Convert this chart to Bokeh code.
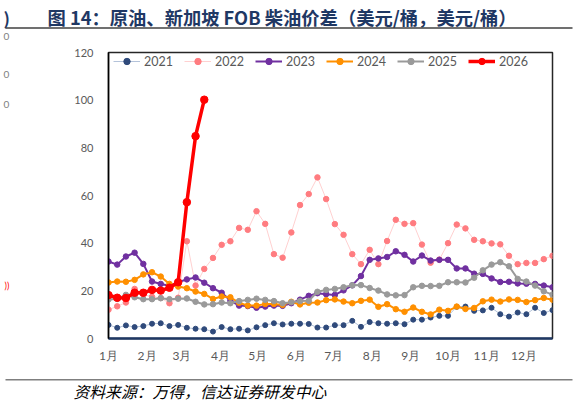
from bokeh.plotting import figure
from bokeh.layouts import column, row
from bokeh.models import Range1d, FixedTicker, Legend, LegendItem
from bokeh.core.properties import value
from bokeh.embed import file_html
from bokeh.resources import INLINE

# ---- data ----
month_labels = ["1月", "2月", "3月", "4月", "5月", "6月", "7月", "8月", "9月", "10月", "11月", "12月"]
month_start_day = [0, 31, 59, 90, 120, 151, 181, 212, 243, 273, 304, 334]
y_ticks = [0, 20, 40, 60, 80, 100, 120]

s2021 = [5.7, 4.5, 5.5, 4.8, 5.2, 6.2, 6.4, 5.2, 5.7, 4.5,
         4.1, 3.9, 2.9, 4.8, 3.9, 4.1, 3.4, 4.7, 5.6, 6.4,
         5.9, 6.2, 6.2, 6.1, 4.6, 4.6, 5.6, 5.6, 7.4, 4.9,
         6.9, 6.4, 6.2, 6.4, 6.0, 7.9, 7.9, 8.8, 9.5, 9.5,
         13.3, 13.4, 11.6, 11.8, 12.9, 10.2, 9.2, 10.9, 10.2, 12.9,
         10.7, 11.9]
s2022 = [12.1, 13.5, 15.1, 20.8, 18.5, 17.5, 17.0, 14.8, 17.1, 40.8,
         22.2, 29.2, 33.8, 39.3, 40.8, 46.4, 45.6, 53.4, 48.1, 35.4,
         33.9, 44.5, 56.0, 60.6, 67.6, 58.5, 48.0, 43.5, 35.4, 31.2,
         37.2, 31.2, 40.9, 49.8, 48.1, 48.4, 39.4, 31.8, 33.1, 40.0,
         47.8, 46.2, 41.4, 40.8, 39.9, 39.5, 34.7, 31.2, 31.7, 31.7,
         33.3, 34.7]
s2023 = [32.3, 31.0, 34.4, 36.0, 31.3, 23.9, 22.9, 22.1, 23.6, 24.8,
         25.6, 23.4, 21.1, 19.2, 15.9, 13.8, 13.6, 12.9, 13.4, 13.8,
         13.7, 14.8, 16.3, 17.9, 19.0, 18.6, 18.3, 20.2, 22.3, 26.2,
         33.0, 33.6, 34.2, 36.6, 35.1, 32.3, 34.8, 32.7, 33.0, 33.0,
         29.4, 29.4, 27.2, 27.1, 25.2, 23.7, 23.8, 23.1, 23.0, 22.9,
         22.2, 21.5]
s2024 = [23.5, 23.9, 23.8, 24.6, 26.9, 27.8, 26.0, 22.9, 21.8, 21.1,
         19.7, 18.7, 16.6, 17.6, 17.3, 15.0, 13.8, 13.8, 14.5, 14.5,
         14.1, 15.4, 14.3, 15.0, 15.1, 16.1, 16.4, 15.5, 14.8, 15.8,
         16.3, 13.3, 14.4, 12.3, 11.2, 13.0, 11.2, 10.1, 12.1, 11.6,
         13.4, 12.4, 12.8, 15.6, 16.3, 15.5, 16.4, 16.2, 15.3, 16.1,
         17.0, 16.3]
s2025 = [16.4, 16.6, 18.3, 17.3, 16.5, 16.5, 16.9, 16.5, 16.7, 16.8,
         15.4, 14.3, 14.4, 15.1, 14.8, 15.7, 16.2, 16.7, 16.2, 15.7,
         14.8, 15.2, 15.7, 15.8, 19.6, 20.4, 20.8, 21.5, 22.3, 22.4,
         21.2, 20.1, 18.5, 18.1, 18.2, 21.5, 22.1, 22.0, 22.1, 23.6,
         23.6, 23.5, 25.5, 28.6, 31.0, 32.0, 30.3, 25.0, 23.9, 22.2,
         19.8, 18.4]
s2026 = [18.2, 17.1, 17.0, 19.2, 19.2, 20.4, 20.1, 21.3, 23.6, 57.2, 84.9, 100.2]

series_names = ["2021", "2022", "2023", "2024", "2025", "2026"]
series_vals = [s2021, s2022, s2023, s2024, s2025, s2026]

title_text = "图 14：原油、新加坡 FOB 柴油价差（美元/桶，美元/桶）"
source_text = "资料来源：万得，信达证券研发中心"

# day-of-year position of each weekly observation
def week_days(n):
    return [w * 7 for w in range(n)]

TOTAL_W = 577
HEAD_H, MID_H, FOOT_H = 46, 326, 31
STRIP_W = 20


def blank_fig(w, h, y0, y1):
    f = figure(width=w, height=h, output_backend="svg", toolbar_location=None,
               x_range=Range1d(0, w), y_range=Range1d(y1, y0),
               x_axis_location=None, y_axis_location=None, min_border=0)
    f.grid.visible = False
    f.outline_line_color = None
    f.background_fill_color = "white"
    f.border_fill_color = "white"
    return f


# ---- header ----
head = blank_fig(TOTAL_W, HEAD_H, 0, HEAD_H)
head.text(x=[47], y=[16.5], text=[title_text], text_font=value("Noto Sans CJK SC"),
          text_font_size="18.3px", text_font_style="bold", text_color="#1F3864",
          text_baseline="middle", text_align="left")
head.text(x=[3], y=[16.5], text=[")"], text_font=value("Noto Sans CJK SC"),
          text_font_size="17px", text_font_style="bold", text_color="#1F3864",
          text_baseline="middle", text_align="left")
head.text(x=[3], y=[36], text=["0"], text_font=value("Lato"), text_font_size="10px",
          text_color="#7F7F7F", text_baseline="middle", text_align="left")
head.segment(x0=[5], y0=[27.5], x1=[572], y1=[27.5], line_color="#404040", line_width=1.5)

# ---- left strip (fragments cut from a neighbouring chart) ----
strip = blank_fig(STRIP_W, MID_H, HEAD_H, HEAD_H + MID_H)
strip.text(x=[3, 3], y=[71, 105], text=["0", "0"], text_font=value("Lato"), text_font_size="10px",
           text_color="#7F7F7F", text_baseline="middle", text_align="left")
strip.text(x=[4], y=[312], text=["))"], text_font=value("Lato"), text_font_size="9px",
           text_color="#FF0000", text_baseline="middle", text_align="left")

# ---- main chart ----
MAIN_W = TOTAL_W - STRIP_W
p = figure(width=MAIN_W, height=MID_H, output_backend="svg", toolbar_location=None,
           x_range=Range1d(0, 357), y_range=Range1d(0, 120),
           min_border_left=108 - STRIP_W, min_border_right=TOTAL_W - 552,
           min_border_top=52 - HEAD_H, min_border_bottom=HEAD_H + MID_H - 338)
p.background_fill_color = "white"
p.border_fill_color = "white"
p.grid.visible = False
p.outline_line_color = "#262626"
p.outline_line_width = 1.5

p.yaxis.ticker = FixedTicker(ticks=y_ticks)
p.yaxis.axis_line_color = "#000000"
p.yaxis.axis_line_width = 1.5
p.yaxis.major_tick_line_color = None
p.yaxis.minor_tick_line_color = None
p.yaxis.major_tick_out = 0
p.yaxis.major_label_standoff = 15
p.yaxis.major_label_text_font = "Lato"
p.yaxis.major_label_text_font_size = "11px"
p.yaxis.major_label_text_color = "#595959"

p.xaxis.ticker = FixedTicker(ticks=month_start_day)
p.xaxis.major_label_overrides = {d: m for d, m in zip(month_start_day, month_labels)}
p.xaxis.axis_line_color = "#1F3864"
p.xaxis.axis_line_width = 2.5
p.xaxis.major_tick_line_color = None
p.xaxis.minor_tick_line_color = None
p.xaxis.major_tick_out = 0
p.xaxis.major_label_standoff = 9
p.xaxis.major_label_text_font = "Lato"
p.xaxis.major_label_text_font_size = "12px"
p.xaxis.major_label_text_color = "#595959"

styles = {
    "2021": dict(line_color="#B4C3DA", line_width=1, marker_color="#2F4A7B", size=5),
    "2022": dict(line_color="#FFD0D0", line_width=1, marker_color="#FF7C80", size=5.5),
    "2023": dict(line_color="#7030A0", line_width=2, marker_color="#7030A0", size=5.5),
    "2024": dict(line_color="#FF9000", line_width=2, marker_color="#FF9000", size=5.5),
    "2025": dict(line_color="#9A9A9A", line_width=2, marker_color="#9A9A9A", size=5.5),
    "2026": dict(line_color="#FF0000", line_width=3.5, marker_color="#FF0000", size=7.5),
}

items = []
for name, vals in zip(series_names, series_vals):
    st = styles[name]
    xs = week_days(len(vals))
    lr = p.line(xs, vals, line_color=st["line_color"], line_width=st["line_width"])
    sr = p.scatter(xs, vals, size=st["size"], fill_color=st["marker_color"],
                   line_color=st["marker_color"], marker="circle")
    items.append(LegendItem(label=name, renderers=[lr, sr]))

legend = Legend(items=items, orientation="horizontal", location=(5, 269),
                border_line_color=None, background_fill_alpha=0,
                padding=0, margin=0, spacing=11, glyph_width=27, glyph_height=16,
                label_height=16, label_standoff=4,
                label_text_font="Lato", label_text_font_size="12.5px",
                label_text_color="#595959")
p.add_layout(legend)

# ---- footer ----
foot = blank_fig(TOTAL_W, FOOT_H, HEAD_H + MID_H, HEAD_H + MID_H + FOOT_H)
foot.segment(x0=[5], y0=[379.3], x1=[572], y1=[379.3], line_color="#7F7F7F", line_width=1.5)
foot.text(x=[73], y=[391], text=[source_text], text_font=value("Noto Sans CJK SC"),
          text_font_size="15.8px", text_font_style="italic", text_color="#000000",
          text_baseline="middle", text_align="left")

layout = column(head, row(strip, p, spacing=0), foot, spacing=0)
open("out.html", "w").write(file_html(layout, INLINE))
